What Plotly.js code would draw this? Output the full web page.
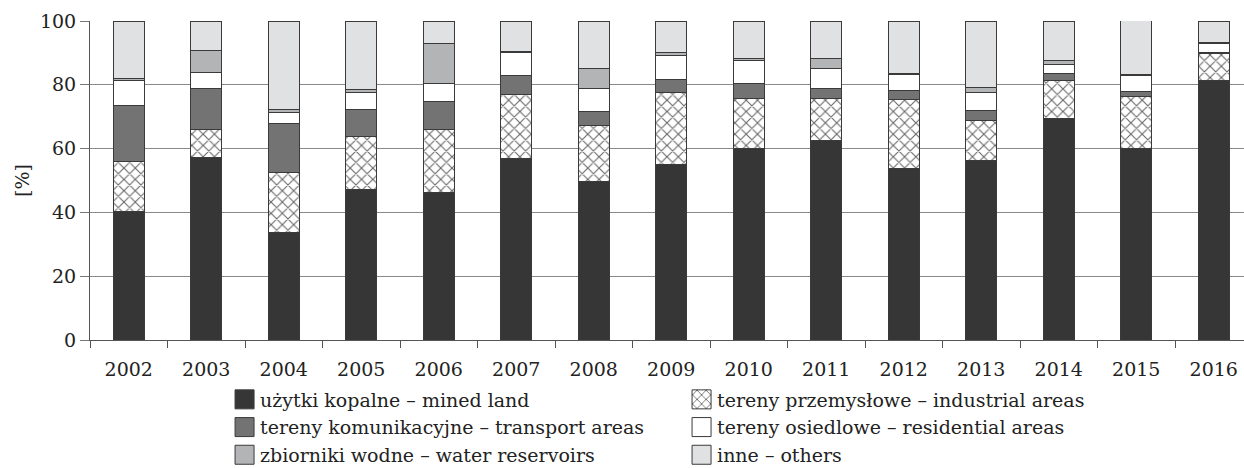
<!DOCTYPE html>
<html>
<head>
<meta charset="utf-8">
<script src="https://cdn.plot.ly/plotly-3.0.1.min.js"></script>
<style>html,body{margin:0;padding:0;background:#fff}#chart{width:1244px;height:468px}</style>
</head>
<body>
<div id="chart"></div>
<script>
const years = ['2002','2003','2004','2005','2006','2007','2008','2009','2010','2011','2012','2013','2014','2015','2016'];
const mined       = [40.4, 57.1, 33.8, 47.2, 46.3, 57.0, 49.7, 55.1, 59.9, 62.4, 53.8, 56.4, 69.3, 60.1, 81.2];
const industrial  = [15.5,  8.9, 18.7, 16.5, 19.8, 19.9, 17.5, 22.5, 15.9, 13.4, 21.6, 12.5, 12.1, 16.2,  8.7];
const transport   = [17.5, 12.7, 15.4,  8.7,  8.8,  6.0,  4.4,  4.1,  4.5,  2.9,  2.7,  2.9,  2.0,  1.6,  0.3];
const residential = [ 8.1,  5.2,  3.4,  5.3,  5.6,  7.3,  7.3,  7.6,  7.2,  6.4,  5.0,  5.9,  3.1,  4.9,  2.7];
const water       = [ 0.4,  6.7,  0.9,  0.9, 12.3,  0.3,  6.2,  0.7,  0.7,  3.0,  0.5,  1.3,  1.2,  0.3,  0.3];
const others      = [18.1,  9.4, 27.8, 21.4,  7.2,  9.5, 14.9, 10.0, 11.8, 11.9, 16.4, 21.0, 12.3, 17.0,  6.8];

const names = [
  'użytki kopalne – mined land',
  'tereny przemysłowe – industrial areas',
  'tereny komunikacyjne – transport areas',
  'tereny osiedlowe – residential areas',
  'zbiorniki wodne – water reservoirs',
  'inne – others'
];
const series = [mined, industrial, transport, residential, water, others];
const fills = ['#363636', '#ffffff', '#737374', '#ffffff', '#b3b4b6', '#e0e1e3'];

const traces = series.map((vals, i) => {
  const marker = {color: fills[i], line: {color: '#3a3a3a', width: 1}};
  if (i === 1) {
    marker.pattern = {shape: 'x', fgcolor: '#666', bgcolor: '#ffffff', size: 8, solidity: 0.25, fillmode: 'replace'};
  }
  return {type: 'bar', name: names[i], x: years, y: vals, marker: marker, width: 0.4, hoverinfo: 'skip'};
});

const tickFont = {family: 'DejaVu Serif, serif', size: 19, color: '#222'};
const legFont = {family: 'DejaVu Serif, serif', size: 19, color: '#222'};
const layout = {
  width: 1244, height: 468,
  margin: {l: 90, r: 0, t: 21, b: 128, autoexpand: false},
  barmode: 'stack',
  paper_bgcolor: '#fff', plot_bgcolor: '#fff',
  font: tickFont,
  showlegend: true,
  xaxis: {
    type: 'category', range: [-0.5, 14.39], automargin: false,
    showgrid: false, showline: true, linecolor: '#555', linewidth: 1,
    ticks: 'outside', tickson: 'boundaries', ticklen: 7, tickcolor: '#555',
    ticklabelstandoff: 12,
    tickfont: tickFont, zeroline: false
  },
  yaxis: {
    range: [0, 100], tickvals: [0, 20, 40, 60, 80, 100], automargin: false,
    showgrid: true, gridcolor: '#8a8a8a', gridwidth: 1,
    showline: true, linecolor: '#555', linewidth: 1,
    ticks: 'outside', ticklen: 9, tickcolor: '#777',
    tickfont: tickFont, zeroline: false,
    title: {text: '[%]', font: tickFont, standoff: 5}
  },
  legend: {
    orientation: 'h', x: 0.1127, xanchor: 'left', y: -0.127, yanchor: 'top',
    entrywidth: 412, entrywidthmode: 'pixels', traceorder: 'normal',
    font: legFont, itemwidth: 30, tracegroupgap: 0
  }
};

function enlargeLegendSymbols() {
  document.querySelectorAll('.legend .legendpoints path').forEach(p => {
    p.setAttribute('d', 'M14,9.5H-5V-9.5H14Z');
  });
}

Plotly.newPlot('chart', traces, layout, {staticPlot: true}).then(enlargeLegendSymbols);
</script>
</body>
</html>
